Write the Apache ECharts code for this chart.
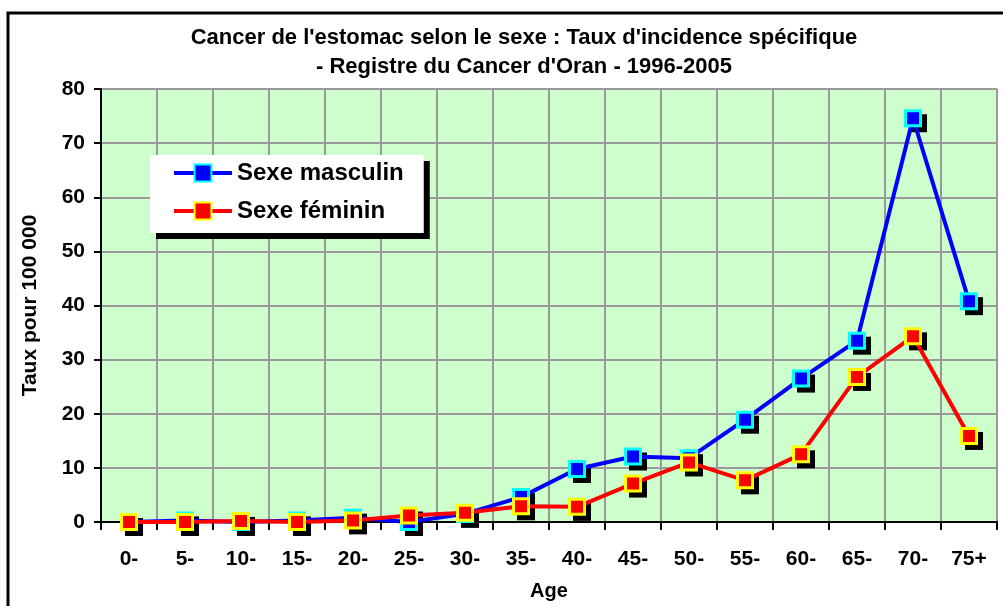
<!DOCTYPE html>
<html>
<head>
<meta charset="utf-8">
<script src="https://cdn.jsdelivr.net/npm/echarts@6/dist/echarts.min.js"></script>
<style>
html, body { margin: 0; padding: 0; background: #fff; }
#chart { width: 1003px; height: 606px; }
</style>
</head>
<body>
<div id="chart"></div>
<script>
var ages = ['0-', '5-', '10-', '15-', '20-', '25-', '30-', '35-', '40-', '45-', '50-', '55-', '60-', '65-', '70-', '75+'];
var masculin = [0, 0.3, 0, 0.3, 0.8, 0, 1.5, 4.6, 9.8, 12.1, 11.8, 18.9, 26.5, 33.5, 74.6, 40.8];
var feminin = [0, 0, 0.2, 0, 0.3, 1.2, 1.7, 2.9, 2.8, 7.1, 11.0, 7.7, 12.5, 26.8, 34.3, 15.9];
var yTicks = { min: 0, max: 80, interval: 10 };

var font = 'Arial, "Liberation Sans", sans-serif';

// ligne + marqueurs carrés
function serie(name, data, color, border) {
    return {
        name: name,
        type: 'line',
        data: data,
        symbol: 'rect',
        symbolSize: 15,
        z: 3,
        lineStyle: { color: color, width: 4 },
        itemStyle: { color: color, borderColor: border, borderWidth: 3 },
        emphasis: { disabled: true }
    };
}

// ombre noire des marqueurs (décalée)
function ombre(name, data) {
    return {
        name: name,
        type: 'line',
        data: data,
        symbol: 'rect',
        symbolSize: 18,
        symbolOffset: [5, 5],
        z: 2,
        lineStyle: { opacity: 0, width: 0 },
        itemStyle: { color: '#000', borderWidth: 0 },
        emphasis: { disabled: true },
        silent: true
    };
}

var option = {
    animation: false,
    textStyle: { fontFamily: font },
    title: {
        text: "Cancer de l'estomac selon le sexe : Taux d'incidence spécifique\n- Registre du Cancer d'Oran - 1996-2005",
        left: 519,
        top: 18,
        textAlign: 'center',
        textStyle: { fontSize: 22, fontWeight: 'bold', color: '#000', lineHeight: 29, fontFamily: font }
    },
    legend: {
        orient: 'vertical',
        left: 150,
        top: 155,
        padding: [6, 20, 10, 22],
        itemGap: 14,
        itemWidth: 58,
        itemHeight: 21,
        backgroundColor: '#fff',
        shadowColor: '#000',
        shadowBlur: 0,
        shadowOffsetX: 6,
        shadowOffsetY: 6,
        lineStyle: { width: 4 },
        textStyle: { fontSize: 24, fontWeight: 'bold', color: '#000', fontFamily: font },
        data: ['Sexe masculin', 'Sexe féminin']
    },
    grid: {
        left: 101,
        top: 89,
        right: 6,
        bottom: 82,
        show: true,
        backgroundColor: '#CCFFCC',
        borderWidth: 0
    },
    xAxis: {
        type: 'category',
        data: ages,
        boundaryGap: true,
        name: 'Age',
        nameLocation: 'middle',
        nameGap: 59,
        nameTextStyle: { fontSize: 20, fontWeight: 'bold', color: '#000' },
        axisLine: { lineStyle: { color: '#000', width: 2 } },
        axisTick: { show: true, interval: 0, length: 8, lineStyle: { color: '#000', width: 2 } },
        axisLabel: { interval: 0, fontSize: 21, fontWeight: 'bold', color: '#000', margin: 27 },
        splitLine: { show: true, interval: 0, lineStyle: { color: '#999', width: 2 } }
    },
    yAxis: {
        type: 'value',
        min: yTicks.min,
        max: yTicks.max,
        interval: yTicks.interval,
        name: 'Taux pour 100 000',
        nameLocation: 'middle',
        nameGap: 60,
        nameRotate: 90,
        nameTextStyle: { fontSize: 21, fontWeight: 'bold', color: '#000' },
        axisLine: { show: true, lineStyle: { color: '#000', width: 2 } },
        axisTick: { show: true, inside: false, length: 7, lineStyle: { color: '#000', width: 2 } },
        axisLabel: { fontSize: 21, fontWeight: 'bold', color: '#000', margin: 16 },
        splitLine: { show: true, lineStyle: { color: '#999', width: 2 } }
    },
    graphic: [{
        type: 'rect',
        shape: { x: 8, y: 13, width: 1100, height: 700 },
        style: { fill: 'none', stroke: '#000', lineWidth: 3 },
        silent: true
    }],
    series: [
        ombre('ombre masculin', masculin),
        ombre('ombre feminin', feminin),
        serie('Sexe masculin', masculin, '#0000FF', '#00FFFF'),
        serie('Sexe féminin', feminin, '#FF0000', '#FFFF00')
    ]
};

var myChart = echarts.init(document.getElementById('chart'));
myChart.setOption(option);
</script>
</body>
</html>
